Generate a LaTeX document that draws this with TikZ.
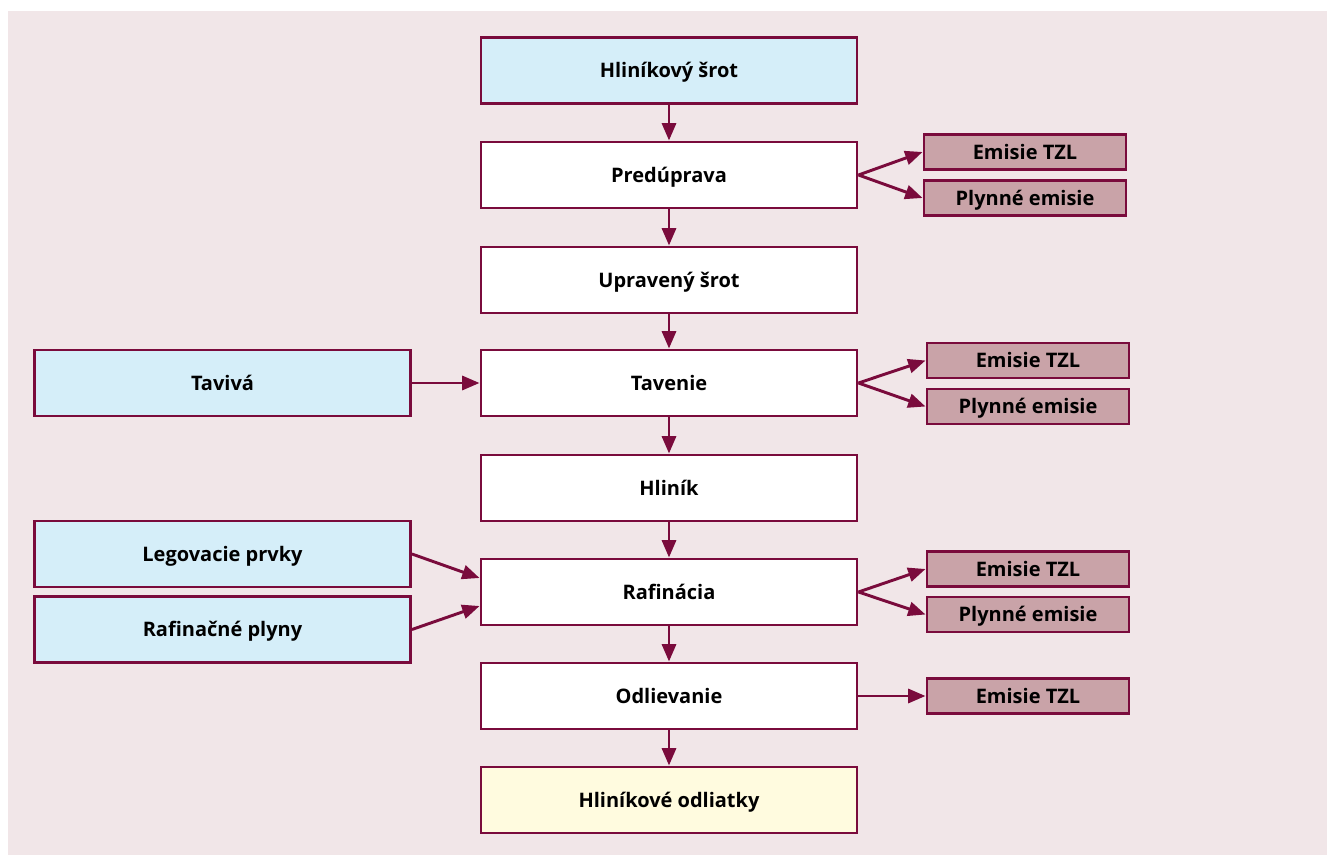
\documentclass[tikz,border=0pt]{standalone}
\usepackage{fontspec}
\setmainfont{Open Sans}
\usetikzlibrary{arrows.meta}
\definecolor{bg}{HTML}{F1E6E8}
\definecolor{edge}{HTML}{7A0B3C}
\definecolor{bluef}{HTML}{D5EEF9}
\definecolor{yelf}{HTML}{FFFBDF}
\definecolor{emf}{HTML}{C9A3A8}
\tikzset{
  lbl/.style={font=\fontsize{15}{18}\selectfont\bfseries, text height=11pt, text depth=0pt},
  box/.style={draw=edge, line width=2.2pt, minimum width=376*0.75pt, minimum height=66*0.75pt, inner sep=0pt, lbl, fill=white},
  inbox/.style={box, fill=bluef},
  outbox/.style={box, fill=yelf},
  embox/.style={draw=edge, line width=2.2pt, minimum width=202*0.75pt, minimum height=35*0.75pt, inner sep=0pt, lbl, fill=emf},
  arr/.style={draw=edge, line width=2.2pt, -{Triangle[length=13pt,width=10.5pt]}}
}
\begin{document}
\begin{tikzpicture}[x=0.75pt,y=-0.75pt]
\useasboundingbox (0,0) rectangle (1327,855);
\fill[white] (0,0) rectangle (1327,855);
\fill[bg] (8,11) rectangle (1327,855);
% main column
\node[inbox] (scrap) at (669,70.5) {Hliníkový šrot};
\node[box] (pre) at (669,175) {Predúprava};
\node[box] (upr) at (669,280) {Upravený šrot};
\node[box] (tav) at (669,383) {Tavenie};
\node[box] (al) at (669,488) {Hliník};
\node[box] (raf) at (669,592) {Rafinácia};
\node[box] (odl) at (669,696) {Odlievanie};
\node[outbox] (cast) at (669,800) {Hliníkové odliatky};
% left inputs
\node[inbox] (flux) at (222.5,383) {Tavivá};
\node[inbox] (leg) at (222.5,554) {Legovacie prvky};
\node[inbox] (rgas) at (222.5,629.5) {Rafinačné plyny};
% emissions
\node[embox] (e1a) at (1025,152) {Emisie TZL};
\node[embox] (e1b) at (1025,198) {Plynné emisie};
\node[embox] (e2a) at (1028,360.5) {Emisie TZL};
\node[embox] (e2b) at (1028,406.5) {Plynné emisie};
\node[embox] (e3a) at (1028,569) {Emisie TZL};
\node[embox] (e3b) at (1028,614.5) {Plynné emisie};
\node[embox] (e4) at (1028,696) {Emisie TZL};
% vertical arrows
\draw[arr] (scrap) -- (pre);
\draw[arr] (pre) -- (upr);
\draw[arr] (upr) -- (tav);
\draw[arr] (tav) -- (al);
\draw[arr] (al) -- (raf);
\draw[arr] (raf) -- (odl);
\draw[arr] (odl) -- (cast);
% inputs
\draw[arr] (flux.east) -- (tav.west);
\draw[arr] (leg.east) -- ([yshift=14*0.75pt]raf.west);
\draw[arr] (rgas.east) -- ([yshift=-14*0.75pt]raf.west);
% emissions arrows
\draw[arr] (pre.east) -- (e1a.west);
\draw[arr] (pre.east) -- (e1b.west);
\draw[arr] (tav.east) -- (e2a.west);
\draw[arr] (tav.east) -- (e2b.west);
\draw[arr] (raf.east) -- (e3a.west);
\draw[arr] (raf.east) -- (e3b.west);
\draw[arr] (odl.east) -- (e4.west);
\end{tikzpicture}
\end{document}
